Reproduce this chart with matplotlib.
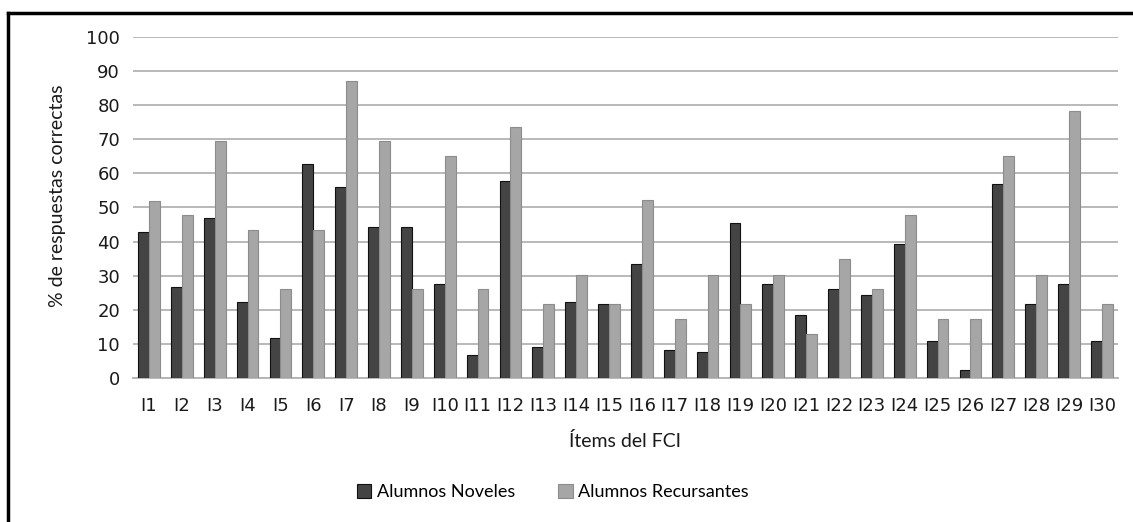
import numpy as np
import matplotlib.pyplot as plt
from matplotlib.lines import Line2D

# Data
items = ["I%d" % i for i in range(1, 31)]
noveles = [42.7, 26.8, 46.8, 22.4, 11.7, 62.8, 56.1, 44.4, 44.4, 27.7,
           6.6, 57.9, 9.0, 22.4, 21.7, 33.5, 8.3, 7.6, 45.4, 27.7,
           18.4, 26.0, 24.4, 39.3, 10.9, 2.4, 57.0, 21.8, 27.7, 10.9]
recursantes = [52.0, 47.8, 69.5, 43.5, 26.0, 43.5, 87.0, 69.4, 26.0, 65.2,
               26.0, 73.7, 21.7, 30.2, 21.7, 52.1, 17.3, 30.2, 21.7, 30.2,
               13.0, 34.8, 26.0, 47.8, 17.3, 17.3, 65.2, 30.3, 78.2, 21.7]
yticks = list(range(0, 101, 10))

fig = plt.figure(figsize=(11.33, 5.22), dpi=100)
ax = fig.add_axes([0.117, 0.276, 0.870, 0.653])

x = np.arange(len(items))
w = 0.33
ax.bar(x - w / 2, noveles, w, color="#444444", edgecolor="#111111",
       linewidth=0.8, label="Alumnos Noveles", zorder=3)
ax.bar(x + w / 2, recursantes, w, color="#a6a6a6", edgecolor="#8c8c8c",
       linewidth=0.8, label="Alumnos Recursantes", zorder=3)

ax.set_xlim(-0.5, len(items) - 0.5)
ax.set_ylim(0, 100)
ax.set_yticks(yticks)
ax.set_xticks(x)
ax.set_xticklabels(items, fontsize=13, family="DejaVu Sans", color="#1a1a1a")
ax.set_yticklabels([str(t) for t in yticks], fontsize=13, family="DejaVu Sans",
                   color="#1a1a1a")
ax.tick_params(length=0)
ax.tick_params(axis="y", pad=9)
ax.tick_params(axis="x", pad=14)
ax.yaxis.grid(True, color="#b3b3b3", linewidth=1.3, zorder=0)
for s in ["top", "right", "left"]:
    ax.spines[s].set_visible(False)
ax.spines["bottom"].set_color("#b3b3b3")
ax.spines["bottom"].set_linewidth(1.3)

ax.set_ylabel("% de respuestas correctas", fontsize=14, family="Lato",
              color="#1a1a1a")
ax.yaxis.set_label_coords(-0.068, 0.535)
ax.set_xlabel("Ítems del FCI", fontsize=14, family="Lato", color="#1a1a1a",
              labelpad=12)

fig.legend(loc="center", bbox_to_anchor=(0.488, 0.057), ncol=2, frameon=False,
           prop={"family": "Lato", "size": 13}, handlelength=0.8,
           handleheight=0.8, handletextpad=0.3, columnspacing=2.4)

# border lines (left and top) like the original figure frame
fig.add_artist(Line2D([8 / 1133, 8 / 1133], [0, 1 - 13 / 522],
                      transform=fig.transFigure, color="black", linewidth=2.5))
fig.add_artist(Line2D([8 / 1133, 1], [1 - 13 / 522, 1 - 13 / 522],
                      transform=fig.transFigure, color="black", linewidth=2.5))

fig.savefig("out.png", dpi=100)
